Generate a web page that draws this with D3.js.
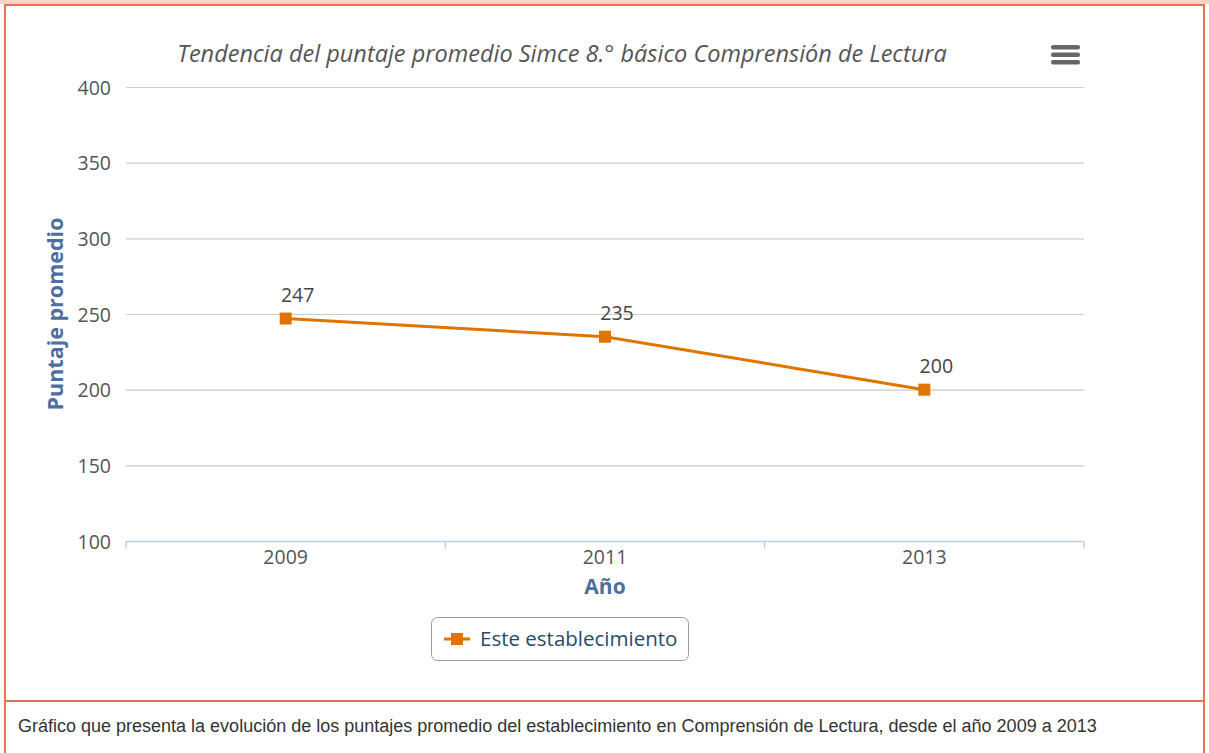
<!DOCTYPE html>
<html>
<head>
<meta charset="utf-8">
<script src="https://cdn.jsdelivr.net/npm/d3@7"></script>
<style>
  body { margin: 0; background: #fff; }
  svg { display: block; }
</style>
</head>
<body>
<div id="chart"></div>
<script>
// chart data
var years = ["2009", "2011", "2013"];
var scores = [247, 235, 200];
var yTicks = [100, 150, 200, 250, 300, 350, 400];
var seriesName = "Este establecimiento";
var titleText = "Tendencia del puntaje promedio Simce 8.° básico Comprensión de Lectura";
var caption = "Gráfico que presenta la evolución de los puntajes promedio del establecimiento en Comprensión de Lectura, desde el año 2009 a 2013";

var width = 1209, height = 753;
var lineColor = "#df7400";
var font = "Open Sans, sans-serif";

var svg = d3.select("#chart").append("svg")
    .attr("width", width)
    .attr("height", height);

// pale band above the frame
svg.append("rect")
    .attr("x", 0).attr("y", 0)
    .attr("width", width).attr("height", 4)
    .attr("fill", "#f9d3c8");

// outer frame + divider
svg.append("rect")
    .attr("x", 5).attr("y", 5)
    .attr("width", 1199).attr("height", 760)
    .attr("fill", "none")
    .attr("stroke", "#ec7352")
    .attr("stroke-width", 2);
svg.append("line")
    .attr("x1", 5).attr("x2", 1204)
    .attr("y1", 701).attr("y2", 701)
    .attr("stroke", "#ec7352")
    .attr("stroke-width", 2);

var x = d3.scaleBand().domain(years).range([126, 1084]).padding(0);
var y = d3.scaleLinear().domain([100, 400]).range([541, 87]);

// gridlines
svg.append("g").selectAll("line")
    .data(yTicks.filter(d => d > 100))
    .enter().append("line")
    .attr("x1", 126).attr("x2", 1084)
    .attr("y1", d => y(d) + 0.5).attr("y2", d => y(d) + 0.5)
    .attr("stroke", "#cccccc")
    .attr("stroke-width", 1.2);

// y axis labels
var yAxis = d3.axisLeft(y).tickValues(yTicks).tickSize(0).tickPadding(15);
var gy = svg.append("g").attr("transform", "translate(126,1)").call(yAxis);
gy.select(".domain").remove();
gy.selectAll("text")
    .attr("font-family", font)
    .attr("font-size", 19.5)
    .attr("fill", "#555");

// x axis
var gx = svg.append("g").attr("transform", "translate(0,541.5)");
gx.append("line")
    .attr("x1", 126).attr("x2", 1084)
    .attr("stroke", "#c0d0e0").attr("stroke-width", 1.5);
var edges = years.map(d => x(d)).concat([x.range()[1]]);
gx.selectAll("line.tick")
    .data(edges).enter().append("line")
    .attr("class", "tick")
    .attr("x1", d => d).attr("x2", d => d)
    .attr("y1", 0).attr("y2", 7)
    .attr("stroke", "#c0d0e0").attr("stroke-width", 1.5);
gx.selectAll("text")
    .data(years).enter().append("text")
    .attr("x", d => x(d) + x.bandwidth() / 2)
    .attr("y", 22)
    .attr("text-anchor", "middle")
    .attr("font-family", font)
    .attr("font-size", 19.5)
    .attr("fill", "#555")
    .text(d => d);

// axis titles
svg.append("text")
    .attr("transform", "translate(63,314) rotate(-90)")
    .attr("text-anchor", "middle")
    .attr("font-family", font)
    .attr("font-weight", "bold")
    .attr("font-size", 21.5)
    .attr("fill", "#4d6f9f")
    .text("Puntaje promedio");
svg.append("text")
    .attr("x", 605).attr("y", 594)
    .attr("text-anchor", "middle")
    .attr("font-family", font)
    .attr("font-weight", "bold")
    .attr("font-size", 21)
    .attr("fill", "#4d6f9f")
    .text("Año");

// title
svg.append("text")
    .attr("x", 562).attr("y", 62)
    .attr("text-anchor", "middle")
    .attr("font-family", font)
    .attr("font-style", "italic")
    .attr("font-size", 23.5)
    .attr("fill", "#555")
    .text(titleText);

// menu icon
svg.append("g").selectAll("rect")
    .data([0, 1, 2]).enter().append("rect")
    .attr("x", 1051).attr("y", d => 45 + d * 7.5)
    .attr("width", 29).attr("height", 4.5)
    .attr("rx", 2)
    .attr("fill", "#666");

// series line
var pts = years.map((d, i) => ({ year: d, value: scores[i] }));
var cx = d => x(d.year) + x.bandwidth() / 2;
svg.append("path")
    .datum(pts)
    .attr("d", d3.line().x(cx).y(d => y(d.value)))
    .attr("fill", "none")
    .attr("stroke", lineColor)
    .attr("stroke-width", 3);
svg.append("g").selectAll("rect")
    .data(pts).enter().append("rect")
    .attr("x", d => cx(d) - 6).attr("y", d => y(d.value) - 6)
    .attr("width", 12).attr("height", 12)
    .attr("fill", lineColor);
svg.append("g").selectAll("text")
    .data(pts).enter().append("text")
    .attr("x", d => cx(d) + 12)
    .attr("y", d => y(d.value) - 17)
    .attr("text-anchor", "middle")
    .attr("font-family", font)
    .attr("font-size", 19.5)
    .attr("fill", "#444")
    .text(d => d.value);

// legend
var lg = svg.append("g").attr("transform", "translate(431,617)");
lg.append("rect")
    .attr("x", 0.5).attr("y", 0.5)
    .attr("width", 257).attr("height", 43)
    .attr("rx", 6)
    .attr("fill", "#fff")
    .attr("stroke", "#999");
lg.append("line")
    .attr("x1", 13).attr("x2", 39)
    .attr("y1", 22).attr("y2", 22)
    .attr("stroke", lineColor).attr("stroke-width", 3);
lg.append("rect")
    .attr("x", 20).attr("y", 16)
    .attr("width", 12).attr("height", 12)
    .attr("fill", lineColor);
lg.append("text")
    .attr("x", 49).attr("y", 29)
    .attr("font-family", font)
    .attr("font-size", 20.5)
    .attr("fill", "#274b6d")
    .text(seriesName);

// caption
svg.append("text")
    .attr("x", 18).attr("y", 732)
    .attr("font-family", "Liberation Sans, Arial, sans-serif")
    .attr("font-size", 18)
    .attr("fill", "#333")
    .text(caption);
</script>
</body>
</html>
